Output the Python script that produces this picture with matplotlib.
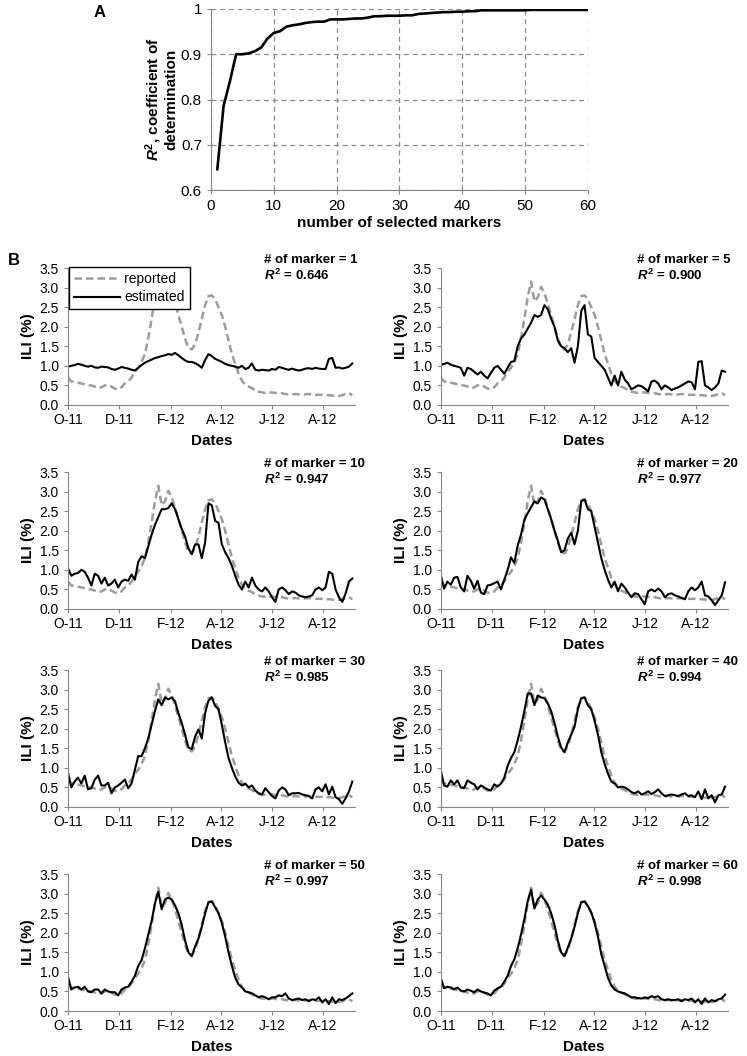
import numpy as np
import matplotlib
matplotlib.use("Agg")
from matplotlib import pyplot as plt

plt.rcParams['font.family'] = ['Liberation Sans', 'DejaVu Sans']
plt.rcParams['mathtext.fontset'] = 'custom'
plt.rcParams['mathtext.it'] = 'Liberation Sans:bold:italic'
plt.rcParams['mathtext.rm'] = 'Liberation Sans:bold'
plt.rcParams['mathtext.bf'] = 'Liberation Sans:bold'

# panel A: R2 against number of selected markers
n_markers = list(range(1, 61))
r2_curve = [0.646, 0.786, 0.840, 0.900, 0.900, 0.902, 0.907, 0.915, 0.935, 0.947,
            0.951, 0.961, 0.964, 0.966, 0.969, 0.971, 0.972, 0.972, 0.977, 0.977,
            0.977, 0.978, 0.979, 0.979, 0.981, 0.984, 0.984, 0.985, 0.985, 0.985,
            0.986, 0.986, 0.989, 0.990, 0.991, 0.992, 0.993, 0.993, 0.994, 0.994,
            0.995, 0.995, 0.997, 0.997, 0.997, 0.997, 0.997, 0.997, 0.997, 0.997,
            0.998, 0.998, 0.998, 0.998, 0.998, 0.998, 0.998, 0.998, 0.998, 0.998]

# panel B: ILI series, one value every 4 days from 1 Oct 2011
step_days = 4
tick_days = [0, 61, 123, 183, 244, 305]
tick_labels = ['O-11', 'D-11', 'F-12', 'A-12', 'J-12', 'A-12']

reported = [0.70, 0.60, 0.60, 0.57, 0.55, 0.53, 0.50, 0.50, 0.47, 0.43,
            0.45, 0.50, 0.52, 0.47, 0.42, 0.40, 0.45, 0.55, 0.60, 0.70,
            0.85, 0.95, 1.10, 1.30, 1.70, 2.20, 2.75, 3.15, 2.65, 2.75,
            3.02, 2.85, 2.60, 2.30, 2.00, 1.70, 1.45, 1.42, 1.55, 1.85,
            2.20, 2.55, 2.78, 2.80, 2.70, 2.50, 2.30, 2.00, 1.65, 1.30,
            1.05, 0.80, 0.62, 0.52, 0.47, 0.43, 0.38, 0.34, 0.32, 0.31,
            0.32, 0.32, 0.31, 0.30, 0.30, 0.28, 0.27, 0.27, 0.28, 0.27,
            0.27, 0.27, 0.28, 0.27, 0.26, 0.26, 0.26, 0.25, 0.25, 0.24,
            0.23, 0.23, 0.25, 0.28, 0.30, 0.25]

est_1 = [0.98, 1.00, 1.02, 1.05, 1.03, 1.00, 0.98, 1.00, 0.96, 0.95,
         0.98, 0.97, 0.96, 0.92, 0.90, 0.93, 0.97, 0.95, 0.93, 0.90,
         0.88, 0.95, 1.02, 1.08, 1.12, 1.16, 1.20, 1.22, 1.25, 1.27,
         1.30, 1.28, 1.33, 1.27, 1.20, 1.14, 1.10, 1.10, 1.07, 1.02,
         0.95, 1.15, 1.30, 1.25, 1.18, 1.14, 1.10, 1.05, 1.02, 1.00,
         0.98, 0.95, 1.00, 0.92, 0.95, 1.06, 0.90, 0.88, 0.90, 0.89,
         0.88, 0.92, 0.90, 0.97, 0.95, 0.92, 0.90, 0.93, 0.90, 0.88,
         0.90, 0.93, 0.94, 0.92, 0.95, 0.93, 0.92, 0.92, 1.18, 1.20,
         0.95, 0.96, 0.93, 0.95, 0.98, 1.06]
est_5 = [1.02, 1.05, 1.08, 1.03, 1.00, 0.98, 0.95, 0.75, 0.95, 0.92,
         0.85, 0.78, 0.85, 0.75, 0.68, 0.82, 0.95, 1.00, 0.90, 0.80,
         0.95, 1.10, 1.12, 1.50, 1.70, 1.80, 1.95, 2.10, 2.30, 2.25,
         2.30, 2.55, 2.45, 2.20, 2.00, 1.65, 1.50, 1.45, 1.35, 1.45,
         1.08, 1.50, 2.40, 2.55, 1.80, 1.75, 1.20, 1.10, 1.00, 0.90,
         0.70, 0.50, 0.75, 0.50, 0.85, 0.65, 0.55, 0.40, 0.45, 0.50,
         0.48, 0.42, 0.35, 0.60, 0.62, 0.55, 0.40, 0.50, 0.45, 0.38,
         0.42, 0.45, 0.50, 0.55, 0.60, 0.58, 0.40, 1.10, 1.12, 0.50,
         0.45, 0.38, 0.45, 0.55, 0.88, 0.85]
est_10 = [1.04, 0.85, 0.90, 0.92, 1.00, 0.95, 0.80, 0.60, 0.90, 0.85,
          0.65, 0.80, 0.60, 0.65, 0.75, 0.55, 0.70, 0.75, 0.72, 0.88,
          0.75, 1.20, 1.35, 1.30, 1.60, 1.90, 2.15, 2.35, 2.55, 2.55,
          2.58, 2.70, 2.55, 2.30, 2.05, 1.85, 1.55, 1.40, 1.65, 1.65,
          1.30, 1.70, 2.70, 2.65, 2.25, 2.20, 1.65, 1.45, 1.30, 1.10,
          0.85, 0.62, 0.50, 0.70, 0.55, 0.80, 0.60, 0.50, 0.45, 0.55,
          0.45, 0.30, 0.18, 0.50, 0.55, 0.48, 0.38, 0.45, 0.42, 0.35,
          0.32, 0.30, 0.32, 0.35, 0.50, 0.55, 0.48, 0.55, 0.95, 0.90,
          0.50, 0.30, 0.18, 0.40, 0.70, 0.78]
est_20 = [0.87, 0.52, 0.70, 0.62, 0.80, 0.82, 0.55, 0.45, 0.85, 0.72,
          0.52, 0.72, 0.42, 0.38, 0.60, 0.62, 0.66, 0.70, 0.50, 0.75,
          1.00, 1.32, 1.18, 1.62, 1.90, 2.28, 2.45, 2.60, 2.75, 2.70,
          2.85, 2.80, 2.55, 2.30, 2.00, 1.75, 1.45, 1.50, 1.80, 1.95,
          1.65, 2.00, 2.75, 2.80, 2.55, 2.50, 2.10, 1.70, 1.30, 1.00,
          0.75, 0.55, 0.70, 0.45, 0.65, 0.55, 0.42, 0.30, 0.40, 0.38,
          0.25, 0.12, 0.45, 0.50, 0.45, 0.52, 0.45, 0.30, 0.38, 0.40,
          0.35, 0.32, 0.28, 0.25, 0.45, 0.55, 0.48, 0.55, 0.70, 0.35,
          0.32, 0.22, 0.10, 0.22, 0.35, 0.68]
est_30 = [0.88, 0.50, 0.65, 0.75, 0.60, 0.80, 0.45, 0.48, 0.70, 0.80,
          0.55, 0.55, 0.62, 0.35, 0.50, 0.55, 0.62, 0.70, 0.48, 0.60,
          0.95, 1.30, 1.30, 1.50, 1.75, 2.10, 2.45, 2.75, 2.60, 2.80,
          2.75, 2.80, 2.70, 2.40, 2.15, 1.85, 1.52, 1.48, 1.80, 1.98,
          1.75, 2.40, 2.72, 2.80, 2.58, 2.50, 2.10, 1.65, 1.25, 1.00,
          0.78, 0.62, 0.55, 0.60, 0.50, 0.55, 0.42, 0.35, 0.32, 0.48,
          0.38, 0.28, 0.22, 0.42, 0.50, 0.45, 0.30, 0.35, 0.35, 0.36,
          0.32, 0.30, 0.28, 0.22, 0.45, 0.50, 0.40, 0.58, 0.32, 0.52,
          0.25, 0.20, 0.08, 0.22, 0.40, 0.65]
est_40 = [0.95, 0.55, 0.52, 0.68, 0.58, 0.68, 0.50, 0.48, 0.68, 0.62,
          0.58, 0.45, 0.55, 0.50, 0.45, 0.42, 0.58, 0.52, 0.60, 0.75,
          1.05, 1.25, 1.40, 1.70, 2.05, 2.45, 2.90, 2.90, 2.60, 2.85,
          2.80, 2.78, 2.65, 2.45, 2.15, 1.80, 1.52, 1.40, 1.65, 1.85,
          2.05, 2.50, 2.78, 2.80, 2.60, 2.50, 2.20, 1.85, 1.40, 1.10,
          0.85, 0.65, 0.60, 0.50, 0.52, 0.50, 0.45, 0.38, 0.35, 0.40,
          0.32, 0.35, 0.40, 0.33, 0.38, 0.45, 0.35, 0.28, 0.30, 0.32,
          0.30, 0.28, 0.32, 0.35, 0.28, 0.30, 0.25, 0.40, 0.20, 0.45,
          0.22, 0.30, 0.12, 0.30, 0.32, 0.52]
est_50 = [0.88, 0.55, 0.60, 0.62, 0.55, 0.62, 0.50, 0.48, 0.55, 0.55,
          0.45, 0.55, 0.50, 0.48, 0.48, 0.40, 0.55, 0.60, 0.62, 0.75,
          0.90, 1.15, 1.30, 1.60, 1.95, 2.30, 2.75, 3.05, 2.60, 2.85,
          2.90, 2.85, 2.70, 2.50, 2.20, 1.80, 1.50, 1.40, 1.65, 1.85,
          2.15, 2.50, 2.78, 2.80, 2.65, 2.50, 2.25, 1.90, 1.50, 1.15,
          0.85, 0.68, 0.60, 0.50, 0.48, 0.45, 0.40, 0.35, 0.38, 0.35,
          0.30, 0.35, 0.35, 0.40, 0.38, 0.45, 0.32, 0.28, 0.30, 0.32,
          0.28, 0.30, 0.25, 0.30, 0.28, 0.35, 0.22, 0.30, 0.18, 0.35,
          0.20, 0.30, 0.28, 0.32, 0.38, 0.45]
est_60 = [0.85, 0.58, 0.62, 0.60, 0.56, 0.60, 0.52, 0.50, 0.55, 0.52,
          0.48, 0.55, 0.50, 0.47, 0.45, 0.40, 0.52, 0.58, 0.62, 0.75,
          0.90, 1.15, 1.32, 1.60, 1.95, 2.35, 2.80, 3.10, 2.62, 2.85,
          2.95, 2.85, 2.72, 2.50, 2.20, 1.80, 1.50, 1.40, 1.62, 1.85,
          2.15, 2.50, 2.78, 2.80, 2.68, 2.52, 2.25, 1.90, 1.45, 1.15,
          0.85, 0.65, 0.55, 0.50, 0.47, 0.45, 0.40, 0.35, 0.35, 0.33,
          0.32, 0.35, 0.33, 0.38, 0.35, 0.38, 0.30, 0.28, 0.30, 0.28,
          0.28, 0.30, 0.25, 0.30, 0.28, 0.32, 0.22, 0.30, 0.18, 0.32,
          0.22, 0.28, 0.25, 0.30, 0.32, 0.42]

marker_counts = [1, 5, 10, 20, 30, 40, 50, 60]
r2_labels = ['0.646', '0.900', '0.947', '0.977', '0.985', '0.994', '0.997', '0.998']
estimates = [est_1, est_5, est_10, est_20, est_30, est_40, est_50, est_60]

axis_grey = '#868686'

fig = plt.figure(figsize=(7.47, 10.56), dpi=100)

# ---- panel A ----
axA = fig.add_axes([0.2825, 0.820, 0.5045, 0.1715])
axA.plot(n_markers, r2_curve, color='black', lw=1.9)
axA.set_xlim(0, 60)
axA.set_ylim(0.6, 1.0)
axA.set_xticks(range(0, 61, 10))
axA.set_yticks([0.6, 0.7, 0.8, 0.9, 1.0])
axA.set_yticklabels(['0.6', '0.7', '0.8', '0.9', '1'])
axA.grid(True, ls=(0, (4, 3)), color='#8c8c8c', lw=0.9)
for s in ['top', 'right']:
    axA.spines[s].set_visible(False)
for s in ['left', 'bottom']:
    axA.spines[s].set_color(axis_grey)
axA.tick_params(labelsize=11, color=axis_grey, length=3)
axA.set_xlabel('number of selected markers', fontsize=11, fontweight='bold', labelpad=2)
axA.set_ylabel('$R^{\\mathrm{2}}$, coefficient of\ndetermination', fontsize=11,
               fontweight='bold', linespacing=1.0, labelpad=2)
fig.text(0.125, 0.995, 'A', fontsize=12, fontweight='bold', va='top', ha='left')

# ---- panel B ----
col_left = [0.091, 0.590]
row_bottom = [0.6165, 0.4233, 0.2358, 0.0426]
w, h = 0.384, 0.1297

for i, (n, est, r2) in enumerate(zip(marker_counts, estimates, r2_labels)):
    ax = fig.add_axes([col_left[i % 2], row_bottom[i // 2], w, h])
    x_rep = np.arange(len(reported)) * step_days
    x_est = np.arange(len(est)) * step_days
    ax.plot(x_rep, reported, color='#9c9c9c', lw=1.8, ls=(0, (3, 1.6)), label='reported')
    ax.plot(x_est, est, color='black', lw=1.5, label='estimated')
    ax.set_xlim(0, 343)
    ax.set_ylim(0, 3.5)
    ax.set_yticks(np.arange(0, 3.6, 0.5))
    ax.set_yticklabels(['%.1f' % v for v in np.arange(0, 3.6, 0.5)])
    ax.set_xticks(tick_days)
    ax.set_xticklabels(tick_labels)
    for s in ['top', 'right']:
        ax.spines[s].set_visible(False)
    for s in ['left', 'bottom']:
        ax.spines[s].set_color(axis_grey)
    ax.tick_params(labelsize=10, color=axis_grey, length=3)
    ax.tick_params(axis='x', pad=3)
    ax.set_xlabel('Dates', fontsize=11, fontweight='bold', labelpad=5)
    ax.set_ylabel('ILI (%)', fontsize=11, fontweight='bold', labelpad=3)
    ax.text(0.685, 1.10, '# of marker = %d\n$R^{\\mathrm{2}}$ = %s' % (n, r2),
            transform=ax.transAxes, fontsize=9.5, fontweight='bold',
            va='top', ha='left', linespacing=1.15)
    if i == 0:
        leg = ax.legend(loc='upper left', bbox_to_anchor=(0.005, 1.01), fontsize=10,
                        frameon=True, fancybox=False, edgecolor='black',
                        framealpha=1, handlelength=3.3, borderpad=0.35,
                        labelspacing=0.35, handletextpad=0.3, borderaxespad=0)
        leg.get_frame().set_linewidth(1.0)

fig.text(0.011, 0.760, 'B', fontsize=12, fontweight='bold', va='top', ha='left')

fig.savefig('out.png', dpi=100)
